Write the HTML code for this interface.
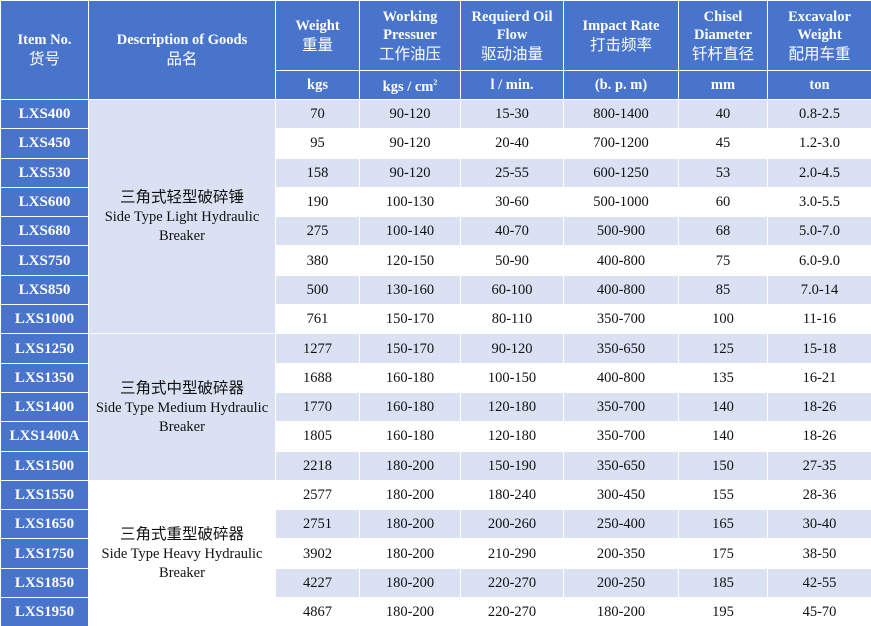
<!DOCTYPE html>
<html><head><meta charset="utf-8"><style>
html,body{margin:0;padding:0;background:#fff;width:871px;height:626px;overflow:hidden}
table{border-collapse:collapse;table-layout:fixed;width:871px;font-family:"Liberation Serif","Noto Serif CJK SC","Noto Sans CJK SC",serif;font-size:14.5px;color:#111}
td{border:1.5px solid #fff;text-align:center;vertical-align:middle;padding:0;line-height:18px}
.h{background:#4874CB;color:#fff;font-weight:bold}
.h .c{font-family:"Noto Sans CJK SC",sans-serif;font-weight:normal;font-size:15.5px}
.i{background:#4874CB;color:#fff;font-weight:bold;font-size:15px}
.l{background:#D9E1F3}
.w{background:#fff}
.d{font-size:14.5px;line-height:19px}
.d .c{font-family:"Noto Sans CJK SC",sans-serif;font-size:15.5px}
tr.r td{height:28.3px}
</style></head><body>
<table>
<colgroup><col style="width:88px"><col style="width:187px"><col style="width:84px"><col style="width:101px"><col style="width:103px"><col style="width:115px"><col style="width:89px"><col style="width:104px"></colgroup>
<tr style="height:70px">
<td class="h" rowspan="2">Item No.<br><span class="c">货号</span></td>
<td class="h" rowspan="2">Description of Goods<br><span class="c">品名</span></td>
<td class="h">Weight<br><span class="c">重量</span></td>
<td class="h">Working<br>Pressuer<br><span class="c">工作油压</span></td>
<td class="h">Requierd Oil<br>Flow<br><span class="c">驱动油量</span></td>
<td class="h">Impact Rate<br><span class="c">打击频率</span></td>
<td class="h">Chisel<br>Diameter<br><span class="c">钎杆直径</span></td>
<td class="h">Excavalor<br>Weight<br><span class="c">配用车重</span></td>
</tr>
<tr style="height:29px">
<td class="h">kgs</td><td class="h">kgs / cm<sup style="font-size:8px">2</sup></td><td class="h">l / min.</td><td class="h">(b. p. m)</td><td class="h">mm</td><td class="h">ton</td>
</tr>
<tr class="r"><td class="i">LXS400</td><td class="l d" rowspan="8"><span class="c">三角式轻型破碎锤</span><br>Side Type Light Hydraulic<br>Breaker</td><td class="l">70</td><td class="l">90-120</td><td class="l">15-30</td><td class="l">800-1400</td><td class="l">40</td><td class="l">0.8-2.5</td></tr>
<tr class="r"><td class="i">LXS450</td><td class="w">95</td><td class="w">90-120</td><td class="w">20-40</td><td class="w">700-1200</td><td class="w">45</td><td class="w">1.2-3.0</td></tr>
<tr class="r"><td class="i">LXS530</td><td class="l">158</td><td class="l">90-120</td><td class="l">25-55</td><td class="l">600-1250</td><td class="l">53</td><td class="l">2.0-4.5</td></tr>
<tr class="r"><td class="i">LXS600</td><td class="w">190</td><td class="w">100-130</td><td class="w">30-60</td><td class="w">500-1000</td><td class="w">60</td><td class="w">3.0-5.5</td></tr>
<tr class="r"><td class="i">LXS680</td><td class="l">275</td><td class="l">100-140</td><td class="l">40-70</td><td class="l">500-900</td><td class="l">68</td><td class="l">5.0-7.0</td></tr>
<tr class="r"><td class="i">LXS750</td><td class="w">380</td><td class="w">120-150</td><td class="w">50-90</td><td class="w">400-800</td><td class="w">75</td><td class="w">6.0-9.0</td></tr>
<tr class="r"><td class="i">LXS850</td><td class="l">500</td><td class="l">130-160</td><td class="l">60-100</td><td class="l">400-800</td><td class="l">85</td><td class="l">7.0-14</td></tr>
<tr class="r"><td class="i">LXS1000</td><td class="w">761</td><td class="w">150-170</td><td class="w">80-110</td><td class="w">350-700</td><td class="w">100</td><td class="w">11-16</td></tr>
<tr class="r"><td class="i">LXS1250</td><td class="l d" rowspan="5"><span class="c">三角式中型破碎器</span><br>Side Type Medium Hydraulic<br>Breaker</td><td class="l">1277</td><td class="l">150-170</td><td class="l">90-120</td><td class="l">350-650</td><td class="l">125</td><td class="l">15-18</td></tr>
<tr class="r"><td class="i">LXS1350</td><td class="w">1688</td><td class="w">160-180</td><td class="w">100-150</td><td class="w">400-800</td><td class="w">135</td><td class="w">16-21</td></tr>
<tr class="r"><td class="i">LXS1400</td><td class="l">1770</td><td class="l">160-180</td><td class="l">120-180</td><td class="l">350-700</td><td class="l">140</td><td class="l">18-26</td></tr>
<tr class="r"><td class="i">LXS1400A</td><td class="w">1805</td><td class="w">160-180</td><td class="w">120-180</td><td class="w">350-700</td><td class="w">140</td><td class="w">18-26</td></tr>
<tr class="r"><td class="i">LXS1500</td><td class="l">2218</td><td class="l">180-200</td><td class="l">150-190</td><td class="l">350-650</td><td class="l">150</td><td class="l">27-35</td></tr>
<tr class="r"><td class="i">LXS1550</td><td class="w d" rowspan="5"><span class="c">三角式重型破碎器</span><br>Side Type Heavy Hydraulic<br>Breaker</td><td class="w">2577</td><td class="w">180-200</td><td class="w">180-240</td><td class="w">300-450</td><td class="w">155</td><td class="w">28-36</td></tr>
<tr class="r"><td class="i">LXS1650</td><td class="l">2751</td><td class="l">180-200</td><td class="l">200-260</td><td class="l">250-400</td><td class="l">165</td><td class="l">30-40</td></tr>
<tr class="r"><td class="i">LXS1750</td><td class="w">3902</td><td class="w">180-200</td><td class="w">210-290</td><td class="w">200-350</td><td class="w">175</td><td class="w">38-50</td></tr>
<tr class="r"><td class="i">LXS1850</td><td class="l">4227</td><td class="l">180-200</td><td class="l">220-270</td><td class="l">200-250</td><td class="l">185</td><td class="l">42-55</td></tr>
<tr class="r"><td class="i">LXS1950</td><td class="w">4867</td><td class="w">180-200</td><td class="w">220-270</td><td class="w">180-200</td><td class="w">195</td><td class="w">45-70</td></tr>
</table>
</body></html>
